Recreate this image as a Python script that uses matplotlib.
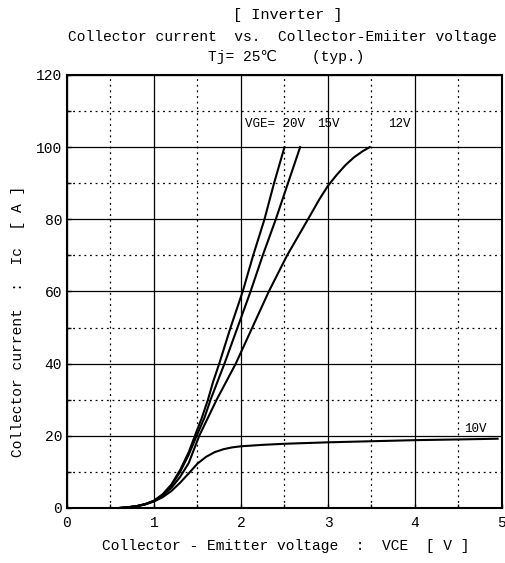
import matplotlib.pyplot as plt
from matplotlib.ticker import MultipleLocator

# Ic-VCE output characteristics, Tj = 25C (typ.)
vce_20 = [0.6, 0.7, 0.8, 0.9, 1.0, 1.1, 1.2, 1.3, 1.4, 1.47, 1.55, 1.62, 1.68, 1.75, 1.88, 2.02, 2.14, 2.27, 2.38, 2.50]
ic_20 = [0, 0.2, 0.5, 1.1, 2, 3.8, 6.5, 10.5, 15.5, 20, 25, 30, 35, 40, 50, 60, 70, 80, 90, 100]

vce_15 = [0.6, 0.7, 0.8, 0.9, 1.0, 1.1, 1.2, 1.3, 1.4, 1.49, 1.58, 1.65, 1.73, 1.81, 1.96, 2.11, 2.25, 2.40, 2.54, 2.68]
ic_15 = [0, 0.2, 0.5, 1.1, 2, 3.7, 6.3, 10, 14.8, 20, 25, 30, 35, 40, 50, 60, 70, 80, 90, 100]

vce_12 = [0.6, 0.7, 0.8, 0.9, 1.0, 1.1, 1.2, 1.3, 1.4, 1.52, 1.62, 1.72, 1.83, 1.94, 2.13, 2.32, 2.53, 2.65, 2.77,
          2.9, 3.0, 3.1, 3.2, 3.3, 3.4, 3.48]
ic_12 = [0, 0.2, 0.5, 1.0, 1.9, 3.4, 5.6, 8.6, 12.5, 20, 25, 30, 35, 40, 50, 60, 70, 75, 80,
         85.5, 89.3, 92.3, 95, 97.2, 98.9, 100]

vce_10 = [0.6, 0.7, 0.8, 0.9, 1.0, 1.1, 1.2, 1.3, 1.4, 1.5, 1.6, 1.7, 1.8, 1.9, 2.0, 2.25, 2.5, 3.0, 3.5, 4.0, 4.5, 4.95]
ic_10 = [0, 0.2, 0.5, 1.0, 1.8, 3.0, 4.7, 7.0, 9.6, 12.3, 14.2, 15.5, 16.3, 16.8, 17.1, 17.5, 17.8, 18.2, 18.5, 18.8, 19.0, 19.2]

x_ticks = [0, 1, 2, 3, 4, 5]
y_ticks = [0, 20, 40, 60, 80, 100, 120]

plt.rcParams['font.family'] = ['Liberation Mono', 'DejaVu Sans', 'Noto Sans CJK JP']

fig = plt.figure(figsize=(5.06, 5.63), dpi=100)
ax = fig.add_axes([0.1324, 0.0977, 0.8596, 0.7691])

for v, i in [(vce_20, ic_20), (vce_15, ic_15), (vce_12, ic_12), (vce_10, ic_10)]:
    ax.plot(v, i, color='black', lw=1.5, zorder=3, solid_joinstyle='round')

ax.set_xlim(0, 5)
ax.set_ylim(0, 120)
ax.set_xticks(x_ticks)
ax.set_yticks(y_ticks)
ax.xaxis.set_minor_locator(MultipleLocator(0.5))
ax.yaxis.set_minor_locator(MultipleLocator(10))
ax.grid(which='major', color='black', lw=0.9, ls='-')
ax.grid(which='minor', color='black', lw=0.9, ls=(0, (1.5, 3)))
ax.tick_params(which='both', direction='in', length=3, width=1, labelsize=10.5)
ax.tick_params(axis='x', pad=6)
for s in ax.spines.values():
    s.set_linewidth(1.5)

ax.text(2.05, 106.4, 'VGE= 20V', fontsize=9, va='center')
ax.text(2.88, 106.4, '15V', fontsize=9, va='center')
ax.text(3.69, 106.4, '12V', fontsize=9, va='center')
ax.text(4.56, 20.3, '10V', fontsize=9, va='bottom')

fig.text(0.569, 0.973, '[ Inverter ]', ha='center', va='center', fontsize=11)
fig.text(0.559, 0.934, 'Collector current  vs.  Collector-Emiiter voltage',
         ha='center', va='center', fontsize=10.5)
fig.text(0.565, 0.899, 'Tj= 25\u2103    (typ.)', ha='center', va='center', fontsize=10.5)
fig.text(0.565, 0.030, 'Collector - Emitter voltage  :  VCE  [ V ]',
         ha='center', va='center', fontsize=10.5)
fig.text(0.036, 0.43, 'Collector current  :  Ic  [ A ]', ha='center', va='center',
         rotation=90, fontsize=10.5)

fig.savefig('out.png', dpi=100)
